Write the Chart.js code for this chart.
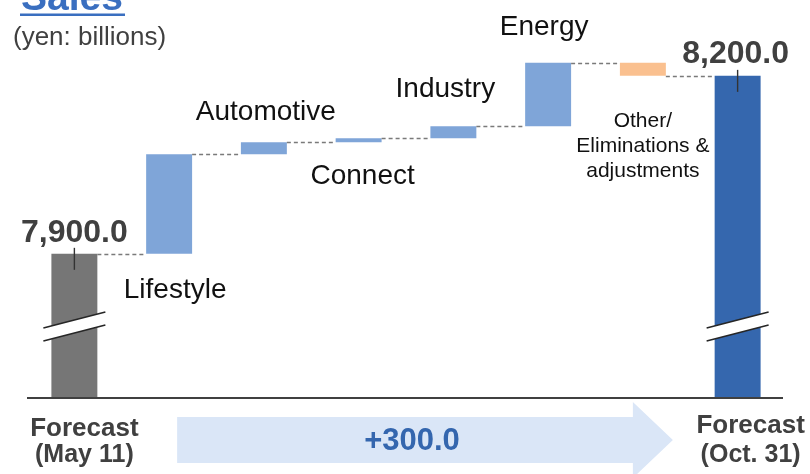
<!DOCTYPE html>
<html>
<head>
<meta charset="utf-8">
<script src="https://cdn.jsdelivr.net/npm/chart.js@4/dist/chart.umd.min.js"></script>
<style>
  html, body { margin: 0; padding: 0; background: #ffffff; }
  #wrap { width: 810px; height: 474px; position: relative; }
</style>
</head>
<body>
<div id="wrap"><canvas id="c" width="810" height="474"></canvas></div>
<script>
// Sales bridge: forecast of May 11 -> forecast of Oct. 31 (yen: billions)
const categories = ['Forecast (May 11)', 'Lifestyle', 'Automotive', 'Connect', 'Industry', 'Energy', 'Other/Eliminations & adjustments', 'Forecast (Oct. 31)'];
const startForecast = 7900.0;
const endForecast = 8200.0;
const segmentChanges = [168, 20, 7, 20, 107, -22];   // Lifestyle .. Other/Eliminations
const segmentLabels = [['Lifestyle'], ['Automotive'], ['Connect'], ['Industry'], ['Energy'], ['Other/', 'Eliminations &', 'adjustments']];
const totalLabels = [['Forecast', '(May 11)'], ['Forecast', '(Oct. 31)']];
const axisMin = 7657;
const axisMax = 8311;

// floating bars: totals rise from below the (broken) axis, changes float
const barData = [startForecast];
const levels = [startForecast];
let running = startForecast;
segmentChanges.forEach(d => {
  barData.push([running, running + d]);
  running += d;
  levels.push(running);
});
barData.push(endForecast);

const COL_START = '#767676', COL_UP = '#7fa5d8', COL_DOWN = '#fac08f', COL_END = '#3567ae';
const barColors = barData.map((v, i) => {
  if (i === 0) return COL_START;
  if (i === barData.length - 1) return COL_END;
  return (v[1] >= v[0]) ? COL_UP : COL_DOWN;
});

const FONT = '"Liberation Sans", Arial, Helvetica, sans-serif';
const fmt = v => v.toLocaleString('en-US', { minimumFractionDigits: 1, maximumFractionDigits: 1 });

const bridgeDecor = {
  id: 'bridgeDecor',
  afterDatasetsDraw(chart) {
    const ctx = chart.ctx, area = chart.chartArea;
    const meta = chart.getDatasetMeta(0);
    const y = chart.scales.y;
    const bars = meta.data;
    ctx.save();
    // dashed connectors between consecutive bars
    ctx.strokeStyle = '#7a7a7a';
    ctx.lineWidth = 1.4;
    ctx.setLineDash([4, 3]);
    for (let i = 0; i < bars.length - 1; i++) {
      const a = bars[i], b = bars[i + 1];
      const lvl = Math.round(y.getPixelForValue(levels[i])) + 0.5;
      ctx.beginPath();
      ctx.moveTo(a.x + a.width / 2, lvl);
      ctx.lineTo(b.x - b.width / 2, lvl);
      ctx.stroke();
    }
    ctx.setLineDash([]);
    // axis baseline
    ctx.strokeStyle = '#404040';
    ctx.lineWidth = 2;
    ctx.beginPath();
    ctx.moveTo(area.left, area.bottom);
    ctx.lineTo(area.right - 2, area.bottom);
    ctx.stroke();
    // break marks and top ticks on the two total bars
    [0, bars.length - 1].forEach(i => {
      const b = bars[i];
      const cx = b.x;
      const x0 = cx - 31, x1 = cx + 31;
      const y1 = area.bottom - 78, y2 = area.bottom - 65;
      ctx.fillStyle = '#ffffff';
      ctx.beginPath();
      ctx.moveTo(x0, y1 + 8); ctx.lineTo(x1, y1 - 8);
      ctx.lineTo(x1, y2 - 8); ctx.lineTo(x0, y2 + 8);
      ctx.closePath();
      ctx.fill();
      ctx.strokeStyle = '#262626';
      ctx.lineWidth = 1.6;
      ctx.beginPath();
      ctx.moveTo(x0, y1 + 8); ctx.lineTo(x1, y1 - 8);
      ctx.moveTo(x0, y2 + 8); ctx.lineTo(x1, y2 - 8);
      ctx.stroke();
      ctx.strokeStyle = '#333333';
      ctx.lineWidth = 1.4;
      ctx.beginPath();
      ctx.moveTo(cx, b.y - 6);
      ctx.lineTo(cx, b.y + 16);
      ctx.stroke();
    });
    ctx.restore();
  },
  afterDraw(chart) {
    const ctx = chart.ctx, area = chart.chartArea;
    const bars = chart.getDatasetMeta(0).data;
    const x = chart.scales.x;
    ctx.save();

    // title and unit
    ctx.fillStyle = '#3a6fc0';
    ctx.font = 'bold 39px ' + FONT;
    ctx.textAlign = 'left';
    ctx.textBaseline = 'alphabetic';
    ctx.fillText('Sales', 21, 10);
    ctx.fillRect(20, 13.5, 105, 2.5);
    ctx.fillStyle = '#404040';
    ctx.font = '26px ' + FONT;
    ctx.fillText('(yen: billions)', 13, 45);

    // totals
    ctx.textAlign = 'center';
    ctx.font = 'bold 32px ' + FONT;
    ctx.fillStyle = '#404040';
    ctx.fillText(fmt(startForecast), bars[0].x, bars[0].y - 12);
    ctx.fillText(fmt(endForecast), bars[bars.length - 1].x - 2, bars[bars.length - 1].y - 13);

    // segment names, placed around each floating bar
    const place = [
      { dx: 6, ref: 'bottom', dy: 44 },
      { dx: 2, ref: 'top', dy: -22 },
      { dx: 4, ref: 'bottom', dy: 42 },
      { dx: -8, ref: 'top', dy: -29 },
      { dx: -4, ref: 'top', dy: -28 },
      { dx: 0, ref: 'bottom', dy: 51 }
    ];
    segmentLabels.forEach((lines, k) => {
      const b = bars[k + 1];
      const p = place[k];
      const top = Math.min(b.y, b.base), bottom = Math.max(b.y, b.base);
      const small = lines.length > 1;
      ctx.font = (small ? '21px ' : '28px ') + FONT;
      ctx.fillStyle = '#111111';
      const y0 = (p.ref === 'top' ? top : bottom) + p.dy;
      lines.forEach((t, j) => ctx.fillText(t, b.x + p.dx, y0 + j * 25));
    });

    // arrow with the overall change
    const ax0 = x.getPixelForValue(1) + 8;
    const ax1 = x.getPixelForValue(6) + 30;
    const cy = area.bottom + 42;
    const headW = 40;
    ctx.fillStyle = '#dae6f7';
    ctx.beginPath();
    ctx.moveTo(ax0, cy - 23);
    ctx.lineTo(ax1 - headW, cy - 23);
    ctx.lineTo(ax1 - headW, cy - 38);
    ctx.lineTo(ax1, cy);
    ctx.lineTo(ax1 - headW, cy + 38);
    ctx.lineTo(ax1 - headW, cy + 23);
    ctx.lineTo(ax0, cy + 23);
    ctx.closePath();
    ctx.fill();
    const diff = endForecast - startForecast;
    ctx.fillStyle = '#3466ae';
    ctx.font = 'bold 31px ' + FONT;
    ctx.fillText((diff >= 0 ? '+' : '') + fmt(diff), (ax0 + ax1 - headW) / 2 + 7, cy + 10);

    // category labels under the totals
    ctx.fillStyle = '#404040';
    const firstX = bars[0].x + 10, lastX = bars[bars.length - 1].x + 13;
    ctx.font = 'bold 26px ' + FONT;
    ctx.fillText(totalLabels[0][0], firstX, area.bottom + 38);
    ctx.fillText(totalLabels[1][0], lastX, area.bottom + 35);
    ctx.font = 'bold 25px ' + FONT;
    ctx.fillText(totalLabels[0][1], firstX, area.bottom + 64);
    ctx.fillText(totalLabels[1][1], lastX, area.bottom + 64);

    ctx.restore();
  }
};

new Chart(document.getElementById('c'), {
  type: 'bar',
  data: {
    labels: categories,
    datasets: [{
      data: barData,
      backgroundColor: barColors,
      borderWidth: 0,
      barPercentage: 0.97,
      categoryPercentage: 0.5
    }]
  },
  options: {
    responsive: false,
    animation: false,
    layout: { padding: { left: 27, right: 25, top: 10, bottom: 76 } },
    plugins: { legend: { display: false }, tooltip: { enabled: false } },
    scales: {
      x: { display: false },
      y: { display: false, min: axisMin, max: axisMax }
    }
  },
  plugins: [bridgeDecor]
});
</script>
</body>
</html>
